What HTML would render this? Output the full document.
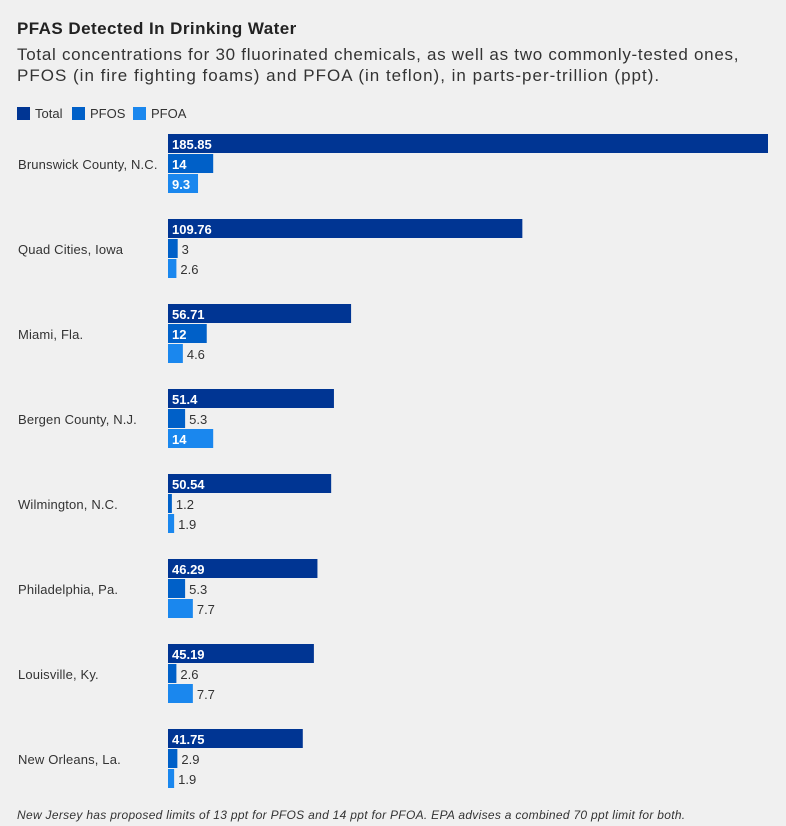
<!DOCTYPE html>
<html><head><meta charset="utf-8"><style>
body{margin:0;width:786px;height:826px;background:#f0f0f0;font-family:"Liberation Sans",sans-serif;overflow:hidden;position:relative}
.t{position:absolute;left:17px;top:19px;font-size:17px;font-weight:bold;color:#222;letter-spacing:0.45px}
.s{position:absolute;left:17px;top:44px;font-size:17px;color:#333;line-height:21px;width:770px;letter-spacing:0.72px;white-space:nowrap}
.s span{letter-spacing:1.0px}
.f{position:absolute;left:17px;top:808px;font-size:12px;font-style:italic;color:#333;letter-spacing:0.3px}
.lg{position:absolute;top:106px;font-size:13px;color:#333;display:flex;align-items:center}
.lg i{display:inline-block;width:13px;height:13px;margin-right:5px}
</style></head><body>
<div class="t">PFAS Detected In Drinking Water</div>
<div class="s">Total concentrations for 30 fluorinated chemicals, as well as two commonly-tested ones,<br><span>PFOS (in fire fighting foams) and PFOA (in teflon), in parts-per-trillion (ppt).</span></div>
<div class="lg" style="left:17px"><i style="background:#003593"></i>Total</div>
<div class="lg" style="left:72px"><i style="background:#0060c8"></i>PFOS</div>
<div class="lg" style="left:133px"><i style="background:#1a87ee"></i>PFOA</div>
<svg id="c" width="786" height="826" style="position:absolute;left:0;top:0"></svg>
<div class="f">New Jersey has proposed limits of 13 ppt for PFOS and 14 ppt for PFOA. EPA advises a combined 70 ppt limit for both.</div>
<script>
const categories=["Brunswick County, N.C.","Quad Cities, Iowa","Miami, Fla.","Bergen County, N.J.","Wilmington, N.C.","Philadelphia, Pa.","Louisville, Ky.","New Orleans, La."];
const totalValues=[185.85,109.76,56.71,51.4,50.54,46.29,45.19,41.75];
const pfosValues=[14,3,12,5.3,1.2,5.3,2.6,2.9];
const pfoaValues=[9.3,2.6,4.6,14,1.9,7.7,7.7,1.9];
const seriesNames=["total","pfos","pfoa"];
const colors=["#003593","#0060c8","#1a87ee"];
const svg=document.getElementById('c');const NS="http://www.w3.org/2000/svg";
const x=v=>v*600/185.85;
const y=(i,s)=>134+i*85+s*20;
categories.forEach((c,i)=>{
 const lab=document.createElementNS(NS,'text');
 lab.setAttribute('x',18);lab.setAttribute('y',y(i,1)+15);lab.setAttribute('font-size','13');lab.setAttribute('fill','#333');lab.setAttribute('letter-spacing','0.15');
 lab.textContent=c;
 
 
 svg.appendChild(lab);
 [totalValues,pfosValues,pfoaValues].forEach((arr,s)=>{
  const v=arr[i],w=x(v);
  const r=document.createElementNS(NS,'rect');
  r.setAttribute('x',168);r.setAttribute('y',y(i,s));r.setAttribute('width',w);r.setAttribute('height',19);r.setAttribute('fill',colors[s]);
  
  
  svg.appendChild(r);
  const t=document.createElementNS(NS,'text');
  const inside=w>=28;
  t.setAttribute('x',inside?172:168+w+4);t.setAttribute('y',y(i,s)+15);t.setAttribute('font-size','13');
  t.setAttribute('fill',inside?'#fff':'#333');if(inside)t.setAttribute('font-weight','bold');
  t.textContent=String(v);
  
  
  svg.appendChild(t);
 });
});
</script>
</body></html>
